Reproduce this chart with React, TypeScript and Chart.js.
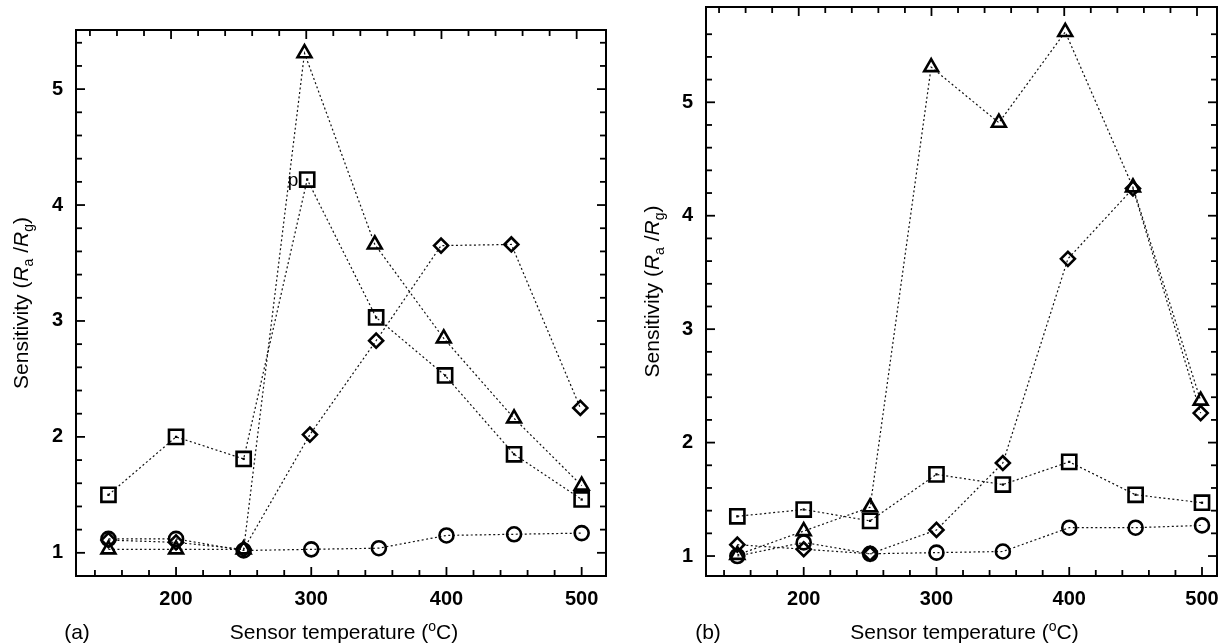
import React, { useEffect, useRef } from "react";
import { Chart, registerables } from "chart.js";
Chart.register(...registerables);

// ---------------- Panel (a) data ----------------
const aSquareX = [150, 200, 250, 297, 348, 399, 450, 500];
const aSquareY = [1.5, 2.0, 1.81, 4.22, 3.03, 2.53, 1.85, 1.46];
const aTriangleX = [150, 200, 250, 295, 347, 398, 450, 500];
const aTriangleY = [1.03, 1.03, 1.03, 5.31, 3.66, 2.85, 2.16, 1.58];
const aDiamondX = [150, 200, 250, 299, 348, 396, 448, 499];
const aDiamondY = [1.11, 1.09, 1.03, 2.02, 2.83, 3.65, 3.66, 2.25];
const aCircleX = [150, 200, 250, 300, 350, 400, 450, 500];
const aCircleY = [1.12, 1.12, 1.02, 1.03, 1.04, 1.15, 1.16, 1.17];

// ---------------- Panel (b) data ----------------
const bSquareX = [150, 200, 250, 300, 350, 400, 450, 500];
const bSquareY = [1.35, 1.41, 1.31, 1.72, 1.63, 1.83, 1.54, 1.47];
const bTriangleX = [150, 200, 250, 296, 347, 397, 448, 499];
const bTriangleY = [1.01, 1.22, 1.43, 5.31, 4.82, 5.62, 4.25, 2.37];
const bDiamondX = [150, 200, 250, 300, 350, 399, 448, 499];
const bDiamondY = [1.1, 1.06, 1.02, 1.23, 1.82, 3.62, 4.24, 2.26];
const bCircleX = [150, 200, 250, 300, 350, 400, 450, 500];
const bCircleY = [1.0, 1.12, 1.02, 1.03, 1.04, 1.25, 1.25, 1.27];

// ---------------- Ticks ----------------
const xTickValues = [140, 160, 180, 200, 220, 240, 260, 280, 300, 320, 340, 360, 380, 400, 420, 440, 460, 480, 500];
const xTickLabels = [200, 300, 400, 500];
const yTickValuesA = [1, 1.2, 1.4, 1.6, 1.8, 2, 2.2, 2.4, 2.6, 2.8, 3, 3.2, 3.4, 3.6, 3.8, 4, 4.2, 4.4, 4.6, 4.8, 5, 5.2, 5.4];
const yTickValuesB = [1, 1.2, 1.4, 1.6, 1.8, 2, 2.2, 2.4, 2.6, 2.8, 3, 3.2, 3.4, 3.6, 3.8, 4, 4.2, 4.4, 4.6, 4.8, 5, 5.2, 5.4, 5.6];
const yTickLabels = [1, 2, 3, 4, 5];

const panelLabelA = "(a)";
const panelLabelB = "(b)";
const xTitle = "Sensor temperature (";
const xTitleSup = "o";
const xTitleEnd = "C)";
const annotationText = "p";

const FAMILY = '"Liberation Sans", Arial, Helvetica, sans-serif';

type Series = { x: number[]; y: number[]; style: string; radius: number; dot?: boolean };
type PanelCfg = {
  offsetLeft: number;
  plotLeft: number;
  plotRight: number;
  plotTop: number;
  plotBottom: number;
  xMin: number;
  xMax: number;
  yMin: number;
  yMax: number;
  yTicks: number[];
  label: string;
  yTitleX: number;
  labelX: number;
  series: Series[];
  annotate?: { series: number; index: number };
};

const panelA: PanelCfg = {
  offsetLeft: 0,
  plotLeft: 76,
  plotRight: 606,
  plotTop: 30,
  plotBottom: 576,
  xMin: 126,
  xMax: 518,
  yMin: 0.8,
  yMax: 5.51,
  yTicks: yTickValuesA,
  label: panelLabelA,
  yTitleX: 21,
  labelX: 77,
  series: [
    { x: aCircleX, y: aCircleY, style: "circle", radius: 7 },
    { x: aDiamondX, y: aDiamondY, style: "rectRot", radius: 7 },
    { x: aTriangleX, y: aTriangleY, style: "triangle", radius: 8 },
    { x: aSquareX, y: aSquareY, style: "rect", radius: 10, dot: true },
  ],
  annotate: { series: 3, index: 3 },
};

const panelB: PanelCfg = {
  offsetLeft: 610,
  plotLeft: 96,
  plotRight: 607,
  plotTop: 7,
  plotBottom: 576,
  xMin: 126.4,
  xMax: 511.3,
  yMin: 0.824,
  yMax: 5.84,
  yTicks: yTickValuesB,
  label: panelLabelB,
  yTitleX: 42,
  labelX: 98,
  series: [
    { x: bCircleX, y: bCircleY, style: "circle", radius: 7 },
    { x: bDiamondX, y: bDiamondY, style: "rectRot", radius: 7 },
    { x: bTriangleX, y: bTriangleY, style: "triangle", radius: 8 },
    { x: bSquareX, y: bSquareY, style: "rect", radius: 10, dot: true },
  ],
};

const W = 610;
const H = 644;

type Seg = { t: string; font: string; dy?: number };

function drawRich(ctx: CanvasRenderingContext2D, segs: Seg[], cx: number, cy: number, rotate: boolean) {
  ctx.save();
  ctx.translate(cx, cy);
  if (rotate) ctx.rotate(-Math.PI / 2);
  let total = 0;
  for (const s of segs) {
    ctx.font = s.font;
    total += ctx.measureText(s.t).width;
  }
  let x = -total / 2;
  ctx.textAlign = "left";
  ctx.textBaseline = "alphabetic";
  ctx.fillStyle = "#000";
  for (const s of segs) {
    ctx.font = s.font;
    ctx.fillText(s.t, x, 7 + (s.dy || 0));
    x += ctx.measureText(s.t).width;
  }
  ctx.restore();
}

function zeroPad(s: any) {
  s.paddingTop = 0;
  s.paddingBottom = 0;
  s.paddingLeft = 0;
  s.paddingRight = 0;
}

function buildConfig(p: PanelCfg): any {
  const datasets: any[] = [];
  p.series.forEach((s) => {
    datasets.push({
      data: s.x.map((xv, i) => ({ x: xv, y: s.y[i] })),
      showLine: true,
      borderColor: "#111",
      borderWidth: 1.2,
      borderDash: [2, 2.5],
      tension: 0,
      pointStyle: s.style,
      pointRadius: s.radius,
      pointBorderWidth: 2.6,
      pointBorderColor: "#000",
      pointBackgroundColor: "rgba(0,0,0,0)",
    });
  });
  p.series.forEach((s) => {
    if (!s.dot) return;
    datasets.push({
      data: s.x.map((xv, i) => ({ x: xv, y: s.y[i] })),
      showLine: false,
      pointStyle: "rect",
      pointRadius: 1.6,
      pointBorderWidth: 0,
      pointBackgroundColor: "#000",
    });
  });

  const frame = {
    id: "frame" + p.label,
    afterDraw(chart: any) {
      const ctx: CanvasRenderingContext2D = chart.ctx;
      const { left, right, top, bottom } = chart.chartArea;
      const xs = chart.scales.x;
      const ys = chart.scales.y;
      ctx.save();
      ctx.strokeStyle = "#000";
      ctx.lineWidth = 2;
      ctx.strokeRect(left, top, right - left, bottom - top);
      ctx.lineWidth = 1.8;
      const line = (x1: number, y1: number, x2: number, y2: number) => {
        ctx.beginPath();
        ctx.moveTo(x1, y1);
        ctx.lineTo(x2, y2);
        ctx.stroke();
      };
      for (const v of xTickValues) {
        if (v < p.xMin || v > p.xMax) continue;
        const px = xs.getPixelForValue(v);
        const len = xTickLabels.includes(v) ? 9 : 6;
        line(px, bottom, px, bottom - len);
        line(px - 5, top, px - 5, top + len);
      }
      for (const v of p.yTicks) {
        const py = ys.getPixelForValue(v);
        const len = yTickLabels.includes(v) ? 9 : 6;
        line(left, py, left + len, py);
        line(right, py, right - len, py);
      }

      // annotation glyph near a point
      if (p.annotate) {
        const s = p.series[p.annotate.series];
        const ax = xs.getPixelForValue(s.x[p.annotate.index]);
        const ay = ys.getPixelForValue(s.y[p.annotate.index]);
        ctx.font = `19px ${FAMILY}`;
        ctx.fillStyle = "#000";
        ctx.textAlign = "right";
        ctx.textBaseline = "alphabetic";
        ctx.fillText(annotationText, ax - 9, ay + 6);
      }

      // y title
      const big = `21px ${FAMILY}`;
      const ital = `italic 21px ${FAMILY}`;
      const small = `14px ${FAMILY}`;
      drawRich(
        ctx,
        [
          { t: "Sensitivity (", font: big },
          { t: "R", font: ital },
          { t: "a", font: small, dy: 5 },
          { t: " /", font: big },
          { t: "R", font: ital },
          { t: "g", font: small, dy: 5 },
          { t: ")", font: big },
        ],
        p.yTitleX,
        (top + bottom) / 2,
        true
      );
      // x title
      drawRich(
        ctx,
        [
          { t: xTitle, font: big },
          { t: xTitleSup, font: small, dy: -8 },
          { t: xTitleEnd, font: big },
        ],
        (left + right) / 2 + 3,
        632,
        false
      );
      // panel label
      ctx.font = big;
      ctx.fillStyle = "#000";
      ctx.textAlign = "center";
      ctx.textBaseline = "middle";
      ctx.fillText(p.label, p.labelX, 633);
      ctx.restore();
    },
  };

  const tickFont = { family: FAMILY, size: 20, weight: "bold" as const };

  return {
    type: "scatter",
    data: { datasets },
    options: {
      animation: false,
      responsive: false,
      devicePixelRatio: 1,
      layout: { autoPadding: false, padding: { left: 0, right: W - p.plotRight, top: p.plotTop, bottom: 0 } },
      plugins: { legend: { display: false }, tooltip: { enabled: false } },
      scales: {
        x: {
          type: "linear",
          min: p.xMin,
          max: p.xMax,
          afterBuildTicks: (s: any) => {
            s.ticks = xTickValues.filter((v) => v >= p.xMin && v <= p.xMax).map((v) => ({ value: v }));
          },
          afterFit: (s: any) => {
            s.height = H - p.plotBottom;
            zeroPad(s);
          },
          grid: { display: false, drawTicks: false },
          border: { display: false },
          ticks: {
            autoSkip: false,
            maxRotation: 0,
            padding: 11,
            color: "#000",
            font: tickFont,
            callback: (v: number) => (xTickLabels.includes(v) ? String(v) : ""),
          },
        },
        y: {
          type: "linear",
          min: p.yMin,
          max: p.yMax,
          afterBuildTicks: (s: any) => {
            s.ticks = p.yTicks.map((v) => ({ value: v }));
          },
          afterFit: (s: any) => {
            s.width = p.plotLeft;
            zeroPad(s);
          },
          grid: { display: false, drawTicks: false },
          border: { display: false },
          ticks: {
            autoSkip: false,
            padding: 13,
            color: "#000",
            font: tickFont,
            callback: (v: number) => (yTickLabels.includes(v) ? String(v) : ""),
          },
        },
      },
    },
    plugins: [frame],
  };
}

function Panel({ cfg }: { cfg: PanelCfg }) {
  const ref = useRef<HTMLCanvasElement>(null);
  useEffect(() => {
    const chart = new Chart(ref.current as HTMLCanvasElement, buildConfig(cfg));
    return () => chart.destroy();
  }, [cfg]);
  return (
    <canvas
      ref={ref}
      width={W}
      height={H}
      style={{ position: "absolute", left: cfg.offsetLeft, top: 0, width: W, height: H }}
    />
  );
}

export default function App() {
  return (
    <div style={{ position: "fixed", left: 0, top: 0, width: 1220, height: 644, background: "#fff", overflow: "hidden" }}>
      <Panel cfg={panelA} />
      <Panel cfg={panelB} />
    </div>
  );
}
